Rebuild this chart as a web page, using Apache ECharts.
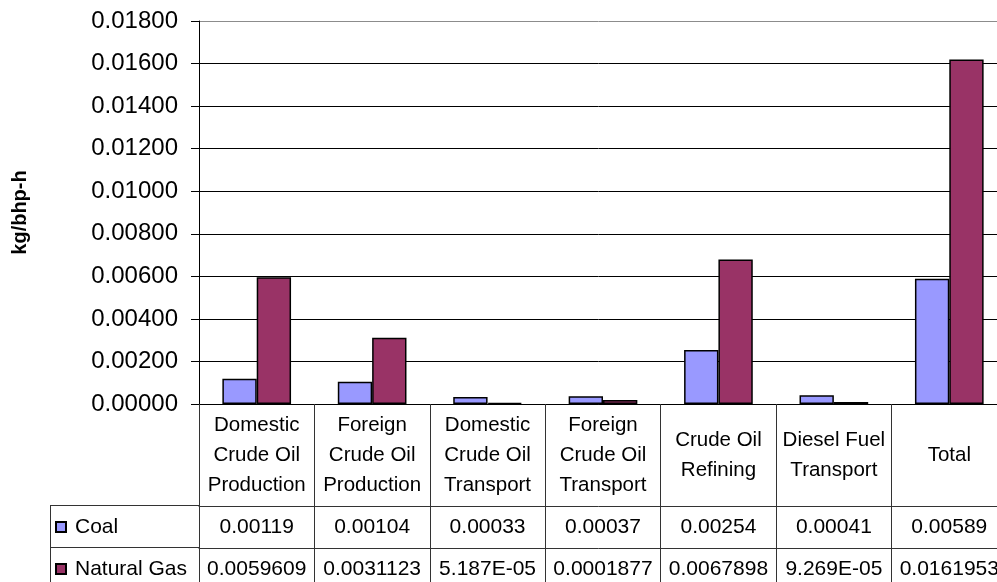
<!DOCTYPE html>
<html>
<head>
<meta charset="utf-8">
<script src="https://cdn.jsdelivr.net/npm/echarts@6/dist/echarts.min.js"></script>
<style>
html,body{margin:0;padding:0;background:#fff;}
#c{width:997px;height:582px;}
</style>
</head>
<body>
<div id="c"></div>
<script>
var categories = ['Domestic\nCrude Oil\nProduction', 'Foreign\nCrude Oil\nProduction', 'Domestic\nCrude Oil\nTransport', 'Foreign\nCrude Oil\nTransport', 'Crude Oil\nRefining', 'Diesel Fuel\nTransport', 'Total'];
var coal = [0.00119, 0.00104, 0.00033, 0.00037, 0.00254, 0.00041, 0.00589];
var naturalGas = [0.0059609, 0.0031123, 0.00005187, 0.0001877, 0.0067898, 0.00009269, 0.0161953];
var coalTableText = ['0.00119', '0.00104', '0.00033', '0.00037', '0.00254', '0.00041', '0.00589'];
var gasTableText = ['0.0059609', '0.0031123', '5.187E-05', '0.0001877', '0.0067898', '9.269E-05', '0.0161953'];
var seriesNames = ['Coal', 'Natural Gas'];
var yTicks = { min: 0, max: 0.018, interval: 0.002 };

var FONT = 'Liberation Sans, Arial, sans-serif';
var chart = echarts.init(document.getElementById('c'), null, { renderer: 'canvas' });

var gridLeft = 199, gridTop = 21, gridH = 383, gridW = 808;
var headerH = 102, rowH = 42;

var splitColors = [];
for (var i = 0; i < 9; i++) splitColors.push('#000');
splitColors.push('#8c8c8c');

function rowAxis(offset, texts) {
  return {
    type: 'category', gridIndex: 0, position: 'bottom', offset: offset,
    data: categories, boundaryGap: true,
    axisLine: { show: true, lineStyle: { color: '#333', width: 1 } },
    axisTick: { show: false },
    axisLabel: {
      interval: 0, margin: rowH / 2, verticalAlign: 'middle',
      fontFamily: FONT, fontSize: 21, color: '#000',
      formatter: function (v, idx) { return texts[idx]; }
    },
    splitLine: { show: false }
  };
}

function legendRow(name, top, lh) {
  return {
    orient: 'vertical', left: 55, top: top, padding: 0, itemGap: 0,
    itemWidth: 10, itemHeight: 10, icon: 'rect',
    data: [name],
    textStyle: { fontFamily: FONT, fontSize: 21, color: '#000', lineHeight: lh, padding: [0, 0, 0, 4] }
  };
}

var option = {
  animation: false,
  backgroundColor: '#fff',
  grid: { left: gridLeft, top: gridTop, width: gridW, height: gridH, containLabel: false, outerBoundsMode: 'none' },
  legend: [
    legendRow(seriesNames[0], gridTop + gridH + headerH, rowH),
    legendRow(seriesNames[1], gridTop + gridH + headerH + rowH + 10, 22)
  ],
  xAxis: [
    {
      type: 'category', data: categories, boundaryGap: true,
      axisLine: { show: true, lineStyle: { color: '#000', width: 1 } },
      axisTick: { show: true, interval: 0, alignWithLabel: false, length: 200, lineStyle: { color: '#333' } },
      axisLabel: {
        interval: 0, margin: headerH / 2, verticalAlign: 'middle', align: 'center',
        fontFamily: FONT, fontSize: 20.5, lineHeight: 30, color: '#000'
      },
      splitLine: { show: false }
    },
    rowAxis(headerH, coalTableText),
    rowAxis(headerH + rowH, gasTableText)
  ],
  yAxis: {
    type: 'value', min: yTicks.min, max: yTicks.max, interval: yTicks.interval,
    name: 'kg/bhp-h', nameLocation: 'middle', nameGap: 169, nameRotate: 90,
    nameTextStyle: { fontFamily: FONT, fontSize: 20, fontWeight: 'bold', color: '#000' },
    axisLine: { show: true, lineStyle: { color: '#000', width: 1 } },
    axisTick: { show: true, inside: false, length: 8, lineStyle: { color: '#000' } },
    axisLabel: {
      margin: 21, fontFamily: FONT, fontSize: 24, color: '#000',
      formatter: function (v) { return v.toFixed(5); }
    },
    splitLine: { show: true, lineStyle: { color: splitColors, width: 1 } }
  },
  series: [
    {
      name: seriesNames[0], type: 'bar', data: coal, barGap: '0%', barCategoryGap: '40.5%',
      itemStyle: { color: '#9999FF', borderColor: '#000', borderWidth: 1.5 }
    },
    {
      name: seriesNames[1], type: 'bar', data: naturalGas, barGap: '0%', barCategoryGap: '40.5%',
      itemStyle: { color: '#993366', borderColor: '#000', borderWidth: 1.5 }
    }
  ],
  graphic: [
    { type: 'line', shape: { x1: 50, y1: 505.5, x2: 200, y2: 505.5 }, style: { stroke: '#333', lineWidth: 1 } },
    { type: 'line', shape: { x1: 50, y1: 547.5, x2: 200, y2: 547.5 }, style: { stroke: '#333', lineWidth: 1 } },
    { type: 'line', shape: { x1: 50.5, y1: 505.5, x2: 50.5, y2: 590 }, style: { stroke: '#333', lineWidth: 1 } }
  ]
};
chart.setOption(option);
</script>
</body>
</html>
